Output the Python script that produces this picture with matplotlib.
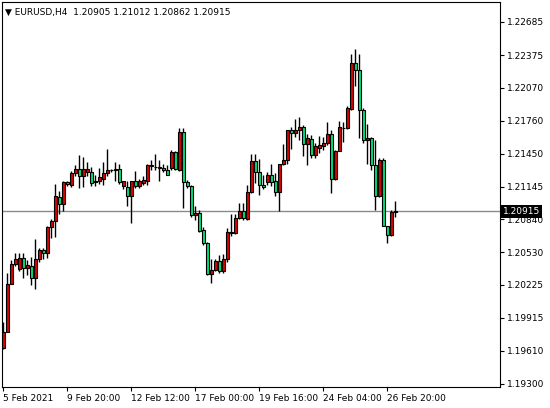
import matplotlib
matplotlib.use("Agg")
import matplotlib.pyplot as plt
from matplotlib.patches import Rectangle

opens = [1.1963,1.1978,1.2023,1.2042,1.2037,1.2048,1.2038,1.2040,1.2029,1.2047,
 1.2055,1.2052,1.2077,1.2082,1.2105,1.2098,1.2119,1.2116,1.2127,1.2131,
 1.2124,1.2128,1.2128,1.2119,1.2120,1.2122,1.2127,1.2130,1.2131,1.2131,
 1.2115,1.2114,1.2106,1.2120,1.2115,1.2118,1.2120,1.2135,1.2133,1.2133,
 1.2132,1.2130,1.2132,1.2147,1.2130,1.2166,1.2119,1.2115,1.2088,1.2090,
 1.2074,1.2062,1.2033,1.2036,1.2045,1.2035,1.2047,1.2072,1.2071,1.2085,
 1.2092,1.2084,1.2109,1.2138,1.2128,1.2116,1.2119,1.2125,1.2120,1.2109,
 1.2136,1.2139,1.2167,1.2165,1.2167,1.2170,1.2154,1.2159,1.2144,1.2151,
 1.2152,1.2155,1.2164,1.2122,1.2148,1.2169,1.2169,1.2187,1.2230,1.2224,
 1.2186,1.2158,1.2160,1.2135,1.2106,1.2139,1.2078,1.2069,1.20905]
highs = [1.1988,1.2034,1.2046,1.2052,1.2052,1.2052,1.2046,1.2049,1.2065,1.2057,
 1.2057,1.2078,1.2084,1.2117,1.2110,1.2120,1.2120,1.2129,1.2135,1.2144,
 1.2142,1.2137,1.2133,1.2125,1.2132,1.2137,1.2150,1.2131,1.2137,1.2136,
 1.2120,1.2120,1.2120,1.2129,1.2122,1.2124,1.2136,1.2139,1.2145,1.2139,
 1.2136,1.2135,1.2149,1.2148,1.2169,1.2169,1.2121,1.2116,1.2096,1.2093,
 1.2077,1.2063,1.2047,1.2047,1.2050,1.2051,1.2076,1.2089,1.2089,1.2099,
 1.2099,1.2116,1.2145,1.2145,1.2140,1.2125,1.2128,1.2136,1.2127,1.2136,
 1.2154,1.2167,1.2170,1.2178,1.2180,1.2172,1.2164,1.2163,1.2155,1.2162,
 1.2161,1.2175,1.2167,1.2149,1.2176,1.2175,1.2190,1.2239,1.2243,1.2239,
 1.2188,1.2173,1.2161,1.2158,1.2141,1.2141,1.2078,1.2093,1.21012]
lows = [1.1962,1.1978,1.2023,1.2040,1.2035,1.2029,1.2032,1.2022,1.2019,1.2044,
 1.2047,1.2048,1.2066,1.2067,1.2089,1.2092,1.2115,1.2114,1.2124,1.2113,
 1.2114,1.2124,1.2115,1.2115,1.2117,1.2116,1.2124,1.2128,1.2120,1.2117,
 1.2112,1.2096,1.2080,1.2113,1.2113,1.2116,1.2116,1.2130,1.2130,1.2120,
 1.2128,1.2125,1.2130,1.2130,1.2129,1.2094,1.2113,1.2086,1.2083,1.2072,
 1.2060,1.2032,1.2024,1.2035,1.2034,1.2034,1.2044,1.2068,1.2070,1.2084,
 1.2083,1.2083,1.2108,1.2118,1.2107,1.2112,1.2116,1.2115,1.2106,1.2092,
 1.2135,1.2136,1.2150,1.2161,1.2158,1.2143,1.2135,1.2141,1.2141,1.2146,
 1.2149,1.2153,1.2108,1.2121,1.2148,1.2156,1.2168,1.2186,1.2209,1.2160,
 1.2155,1.2136,1.2130,1.2093,1.2105,1.2078,1.2062,1.2068,1.20862]
closes = [1.1978,1.2023,1.2042,1.2047,1.2048,1.2038,1.2041,1.2029,1.2047,1.2055,
 1.2052,1.2077,1.2082,1.2106,1.2098,1.2119,1.2117,1.2127,1.2131,1.2124,
 1.2131,1.2131,1.2118,1.2120,1.2123,1.2127,1.2130,1.2130,1.2130,1.2119,
 1.2120,1.2106,1.2120,1.2115,1.2120,1.2121,1.2135,1.2134,1.2133,1.2132,
 1.2130,1.2125,1.2147,1.2131,1.2166,1.2119,1.2115,1.2088,1.2090,1.2073,
 1.2062,1.2033,1.2036,1.2045,1.2035,1.2047,1.2072,1.2071,1.2085,1.2092,
 1.2085,1.2109,1.2138,1.2128,1.2116,1.2114,1.2125,1.2119,1.2109,1.2136,
 1.2139,1.2167,1.2165,1.2167,1.2170,1.2154,1.2160,1.2144,1.2152,1.2153,
 1.2155,1.2164,1.2122,1.2148,1.2170,1.2169,1.2188,1.2230,1.2224,1.2186,
 1.2158,1.2160,1.2135,1.2106,1.2139,1.2078,1.2069,1.2091,1.20915]

price_ticks = [1.22685,1.22375,1.22070,1.21760,1.21450,1.21145,1.20840,
               1.20530,1.20225,1.19915,1.19610,1.19300]
date_pos = [0,16,32,48,64,80,96]
date_labels = ["5 Feb 2021","9 Feb 20:00","12 Feb 12:00","17 Feb 00:00",
               "19 Feb 16:00","24 Feb 04:00","26 Feb 20:00"]
title = "EURUSD,H4  1.20905 1.21012 1.20862 1.20915"
last_price = 1.20915

fig = plt.figure(figsize=(5.5,4.08), dpi=100)
ax = fig.add_axes([2/550, 1-387/408, 498/550, 385/408])
for i,(o,h,l,c) in enumerate(zip(opens,highs,lows,closes)):
    ax.vlines(i, l, h, color='black', lw=1, zorder=2)
    col = '#e00000' if c >= o else '#00e07a'
    b = min(o,c); ht = max(abs(c-o), 0.00002)
    ax.add_patch(Rectangle((i-0.35, b), 0.7, ht, facecolor=col, edgecolor='black', lw=0.8, zorder=3))
ax.axhline(last_price, color='#8a8a8a', lw=1, zorder=1)
ax.set_xlim(-0.325, 124.2)
ax.set_ylim(1.19269, 1.22872)
ax.yaxis.tick_right()
ax.set_yticks(price_ticks)
ax.set_yticklabels([f"{p:.5f}" for p in price_ticks], fontsize=6.5)
ax.set_xticks(date_pos)
ax.set_xticklabels(date_labels, fontsize=6.5, ha='left')
ax.tick_params(length=3, width=0.8, pad=2)
for s in ax.spines.values():
    s.set_linewidth(0.8)
ax.text(1.005, last_price, f"{last_price:.5f}", transform=ax.get_yaxis_transform(),
        fontsize=6.5, color='white', va='center', ha='left',
        bbox=dict(facecolor='black', edgecolor='none', pad=1.5), zorder=5)
ax.text(0.006, 0.985, "\u25BC " + title, transform=ax.transAxes, fontsize=6.5,
        va='top', ha='left')
fig.savefig("out.png", dpi=100)
